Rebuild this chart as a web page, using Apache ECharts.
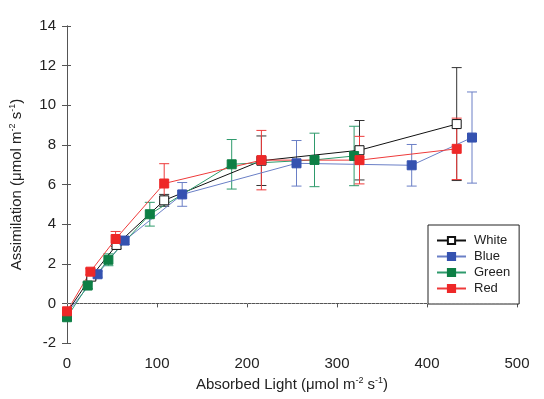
<!DOCTYPE html>
<html>
<head>
<meta charset="utf-8">
<script src="https://cdn.jsdelivr.net/npm/echarts@6/dist/echarts.min.js"></script>
<style>
  html, body { margin: 0; padding: 0; background: #fff; }
  #main { width: 544px; height: 399px; }
</style>
</head>
<body>
<div id="main"></div>
<script>
// values
var whiteX = [0, 27, 55, 108, 216, 325, 433];
var whiteY = [-0.45, 1.35, 2.95, 5.2, 7.2, 7.73, 9.05];
var whiteErr = [0.15, 0.15, 0.2, 0.3, 1.25, 1.5, 2.85];

var blueX = [0, 34, 64, 128, 255, 383, 450];
var blueY = [-0.5, 1.47, 3.17, 5.5, 7.07, 6.97, 8.37];
var blueErr = [0.15, 0.15, 0.2, 0.6, 1.15, 1.05, 2.3];

var greenX = [0, 23, 46, 92, 183, 275, 319];
var greenY = [-0.7, 0.9, 2.2, 4.5, 7.02, 7.24, 7.44];
var greenErr = [0.15, 0.15, 0.3, 0.6, 1.25, 1.35, 1.5];

var redX = [0, 26, 54, 108, 216, 325, 433];
var redY = [-0.4, 1.6, 3.25, 6.05, 7.23, 7.23, 7.8];
var redErr = [0.15, 0.15, 0.38, 1.0, 1.5, 1.2, 1.55];

var FONT = 'Liberation Sans, Arial, sans-serif';

function pts(xs, ys) {
  return xs.map(function (x, i) { return [x, ys[i]]; });
}
function errs(xs, ys, es) {
  return xs.map(function (x, i) { return [x, ys[i] - es[i], ys[i] + es[i]]; });
}

function errorSeries(name, data, color) {
  return {
    type: "custom",
    name: name + " err",
    data: data,
    z: 1,
    encode: { x: 0, y: [1, 2] },
    renderItem: function (params, api) {
      var x = api.value(0);
      var top = api.coord([x, api.value(2)]);
      var bot = api.coord([x, api.value(1)]);
      var w = 5;
      var st = { stroke: color, lineWidth: 1 };
      return {
        type: "group",
        children: [
          { type: "line", shape: { x1: top[0], y1: top[1], x2: bot[0], y2: bot[1] }, style: st },
          { type: "line", shape: { x1: top[0] - w, y1: top[1], x2: top[0] + w, y2: top[1] }, style: st },
          { type: "line", shape: { x1: bot[0] - w, y1: bot[1], x2: bot[0] + w, y2: bot[1] }, style: st }
        ]
      };
    }
  };
}

function lineSeries(name, data, lineColor, fill, border) {
  return {
    type: "line",
    name: name,
    data: data,
    z: 3,
    symbol: "rect",
    symbolSize: 9,
    lineStyle: { color: lineColor, width: 1 },
    itemStyle: { color: fill, borderColor: border, borderWidth: 1 },
    emphasis: { disabled: true },
    animation: false
  };
}

var chart = echarts.init(document.getElementById("main"), null, { renderer: "canvas" });

var tickLbl = { color: "#222", fontSize: 15, fontFamily: FONT };
var axLine = { lineStyle: { color: "#555", width: 1 } };
var titleRich = {
  n: { fontSize: 15, fontFamily: FONT, color: "#222", lineHeight: 18 },
  s: { fontSize: 9, fontFamily: FONT, color: "#222", verticalAlign: "top", lineHeight: 18 }
};

var option = {
  animation: false,
  grid: { left: 62.5, right: 27, top: 26, bottom: 56 },
  xAxis: [
    {
      type: "value", min: 0, max: 500, interval: 100,
      axisLine: axLine, axisTick: { length: 4, lineStyle: { color: "#555" } },
      splitLine: { show: false },
      axisLabel: Object.assign({ margin: 13 }, tickLbl),
      name: "{n|Absorbed Light (μmol m}{s|-2}{n| s}{s|-1}{n|)}",
      nameLocation: "middle", nameGap: 33,
      nameTextStyle: { rich: titleRich }
    },
    {
      type: "value", min: 0, max: 500, position: "top",
      axisLine: axLine, axisTick: { show: false }, axisLabel: { show: false },
      splitLine: { show: false }
    }
  ],
  yAxis: [
    {
      type: "value", min: -2, max: 14, interval: 2,
      axisLine: axLine, axisTick: { length: 5, lineStyle: { color: "#555" } },
      splitLine: { show: false },
      axisLabel: Object.assign({ margin: 11 }, tickLbl),
      name: "{n|Assimilation (μmol m}{s|-2}{n| s}{s|-1}{n|)}",
      nameLocation: "middle", nameGap: 41,
      nameTextStyle: { rich: titleRich }
    },
    {
      type: "value", min: -2, max: 14, interval: 2, position: "right",
      axisLine: axLine, axisTick: { length: 4, lineStyle: { color: "#555" } },
      axisLabel: { show: false }, splitLine: { show: false }
    }
  ],
  legend: {
    data: ["White", "Blue", "Green", "Red"],
    orient: "vertical",
    left: 428, top: 225,
    padding: [9, 9, 9, 8],
    itemGap: 3,
    itemWidth: 29, itemHeight: 9,
    backgroundColor: "#fff",
    borderColor: "#222", borderWidth: 1,
    textStyle: { fontSize: 13, fontFamily: FONT, color: "#222", padding: [0, 0, 0, 3] }
  },
  series: [
    errorSeries("White", errs(whiteX, whiteY, whiteErr), "#333"),
    errorSeries("Blue", errs(blueX, blueY, blueErr), "#6a7fc6"),
    errorSeries("Green", errs(greenX, greenY, greenErr), "#2e9a6c"),
    errorSeries("Red", errs(redX, redY, redErr), "#ee3a3a"),
    Object.assign(lineSeries("White", pts(whiteX, whiteY), "#111", "#fff", "#111"), {
      markLine: {
        silent: true, symbol: "none", label: { show: false },
        lineStyle: { color: "#999", type: [1, 3], width: 1 },
        data: [{ yAxis: 0 }]
      }
    }),
    lineSeries("Blue", pts(blueX, blueY), "#6a7fc6", "#3552b0", "#3552b0"),
    lineSeries("Green", pts(greenX, greenY), "#2e9a6c", "#0d7f45", "#0d7f45"),
    lineSeries("Red", pts(redX, redY), "#ee3a3a", "#ee2828", "#ee2828")
  ]
};

chart.setOption(option);
</script>
</body>
</html>
